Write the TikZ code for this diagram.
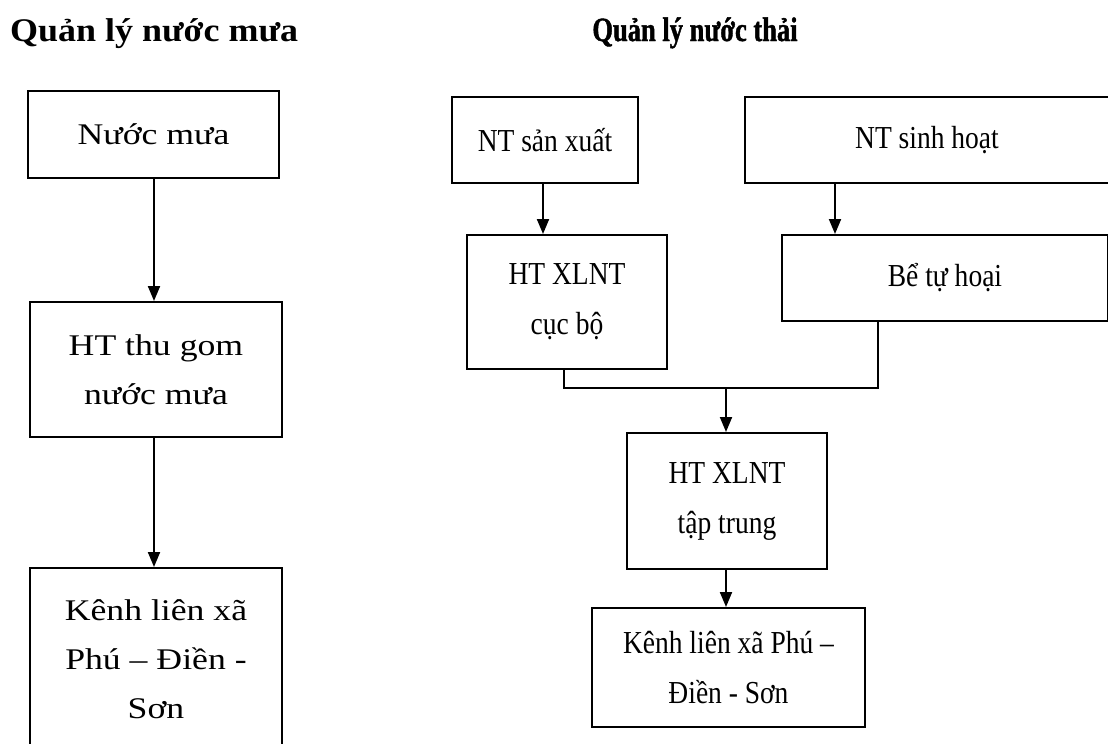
\documentclass[tikz,border=0pt]{standalone}
\usepackage{fontspec}
\setmainfont{Liberation Serif}
\newfontfamily\leftfont[FakeStretch=1.19]{Liberation Serif}
\newfontfamily\rightfont[FakeStretch=0.86]{Liberation Serif}
\newfontfamily\lefttitlefont[FakeStretch=1.09]{Liberation Serif}
\newfontfamily\righttitlefont[FakeStretch=0.78,FakeBold=1.2]{Liberation Serif}
\usetikzlibrary{arrows.meta}
\tikzset{
  boxnode/.style={draw, line width=2pt, inner sep=0pt, align=center},
  leftbox/.style={boxnode, font=\leftfont\fontsize{30}{49}\selectfont},
  rightbox/.style={boxnode, font=\rightfont\fontsize{32}{50}\selectfont},
  titlenode/.style={inner sep=0pt},
  conn/.style={line width=2pt},
  arr/.style={line width=2pt, -{Triangle[length=15pt,width=12pt]}}
}
\newcommand{\bx}[7]{% style, name, x0, y0, x1, y1, text
  \node[#1, minimum width={(#5-#3)*1pt}, minimum height={(#6-#4)*1pt}]
    (#2) at ({(#3+#5)/2},{(#4+#6)/2}) {#7};}
\begin{document}
\begin{tikzpicture}[x=1pt,y=-1pt]
\useasboundingbox (0,0) rectangle (1108,744);
\clip (0,0) rectangle (1108,744);
\fill[white] (0,0) rectangle (1108,744);
% titles
\node[titlenode, anchor=base west, font=\lefttitlefont\fontsize{33}{40}\selectfont\bfseries] (t1) at (10,41) {Quản lý nước mưa};
\node[titlenode, anchor=base, font=\righttitlefont\fontsize{34}{40}\selectfont\bfseries] (t2) at (695,41) {Quản lý nước thải};
% left column
\bx{leftbox}{m1}{28}{91}{279}{178}{Nước mưa}
\bx{leftbox}{m2}{30}{302}{282}{437}{HT thu gom\\nước mưa}
\bx{leftbox}{m3}{30}{568}{282}{750}{Kênh liên xã\\Phú – Điền -\\Sơn}
% right part
\bx{rightbox}{nsx}{452}{97}{638}{183}{NT sản xuất}
\bx{rightbox}{nsh}{745}{97}{1109}{183}{NT sinh hoạt}
\bx{rightbox}{xlcb}{467}{235}{667}{369}{HT XLNT\\cục bộ}
\bx{rightbox}{bth}{782}{235}{1108}{321}{Bể tự hoại}
\bx{rightbox}{xltt}{627}{433}{827}{569}{HT XLNT\\tập trung}
\bx{rightbox}{k2}{592}{608}{865}{727}{Kênh liên xã Phú –\\Điền - Sơn}
% helper coordinates
\coordinate (cm) at (154,0);
\coordinate (cs) at (543,0);
\coordinate (ch) at (835,0);
\coordinate (jl) at (564,388);
\coordinate (jr) at (878,388);
\coordinate (jm) at (726,388);
% connectors
\draw[arr] (m1.south -| cm) -- (m2.north -| cm);
\draw[arr] (m2.south -| cm) -- (m3.north -| cm);
\draw[arr] (nsx.south -| cs) -- (xlcb.north -| cs);
\draw[arr] (nsh.south -| ch) -- (bth.north -| ch);
\draw[conn] (xlcb.south -| jl) -- (jl) -- (jr) -- (bth.south -| jr);
\draw[arr] (jm) -- (xltt.north -| jm);
\draw[arr] (xltt.south -| jm) -- (k2.north -| jm);
\end{tikzpicture}
\end{document}
